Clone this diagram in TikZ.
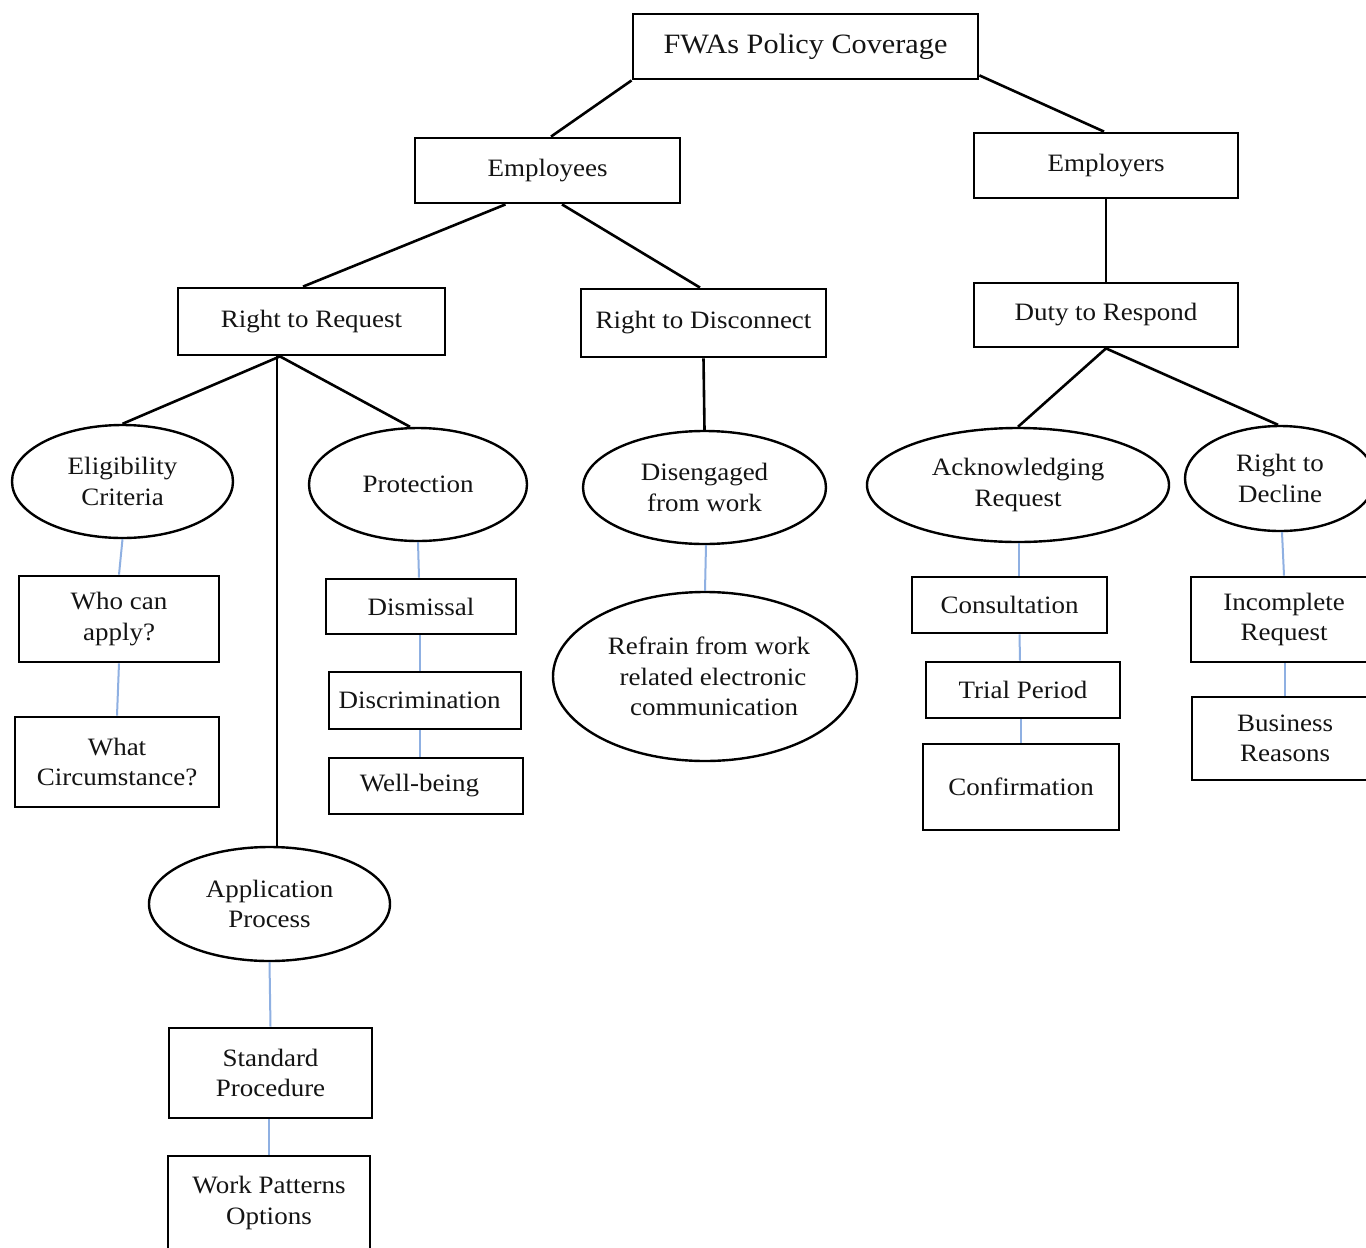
\documentclass[tikz,border=0pt]{standalone}
\usepackage{fontspec}
\setmainfont{Liberation Serif}[FakeStretch=1.08]
\usetikzlibrary{shapes.geometric}
\definecolor{linkblue}{RGB}{143,176,226}
\definecolor{inkgray}{RGB}{20,20,20}
\begin{document}
\begin{tikzpicture}[x=1pt,y=-1pt,
  box/.style={draw=black,line width=2.8pt,rectangle,align=center,inner sep=0pt,text=inkgray,font=\fontsize{25}{30.5}\selectfont},
  oval/.style={draw=black,line width=2.4pt,ellipse,align=center,inner sep=0pt,text=inkgray,font=\fontsize{25}{30.5}\selectfont},
  tree/.style={draw=black,line width=2.6pt},
  sub/.style={draw=linkblue,line width=2pt}]
\clip (0,0) rectangle (1366,1248);
\fill[white] (0,0) rectangle (1366,1248);

% rectangles
\node[box,minimum width=345pt,minimum height=65pt,font=\fontsize{28}{32}\selectfont] (top) at (805.5,46.5) {FWAs Policy Coverage};
\node[box,minimum width=265pt,minimum height=65pt] (emp) at (547.5,170.5) {Employees};
\node[box,minimum width=264pt,minimum height=65pt] (empr) at (1106,165.5) {Employers};
\node[box,minimum width=267pt,minimum height=67pt] (rtr) at (311.5,321.5) {Right to Request};
\node[box,minimum width=245pt,minimum height=68pt] (rtd) at (703.5,323) {Right to Disconnect};
\node[box,minimum width=264pt,minimum height=64pt] (duty) at (1106,315) {Duty to Respond};

% ellipses
\node[oval,minimum width=221pt,minimum height=113pt] (elig) at (122.5,481.5) {Eligibility\\Criteria};
\node[oval,minimum width=218pt,minimum height=113pt] (prot) at (418,484.5) {Protection};
\node[oval,minimum width=243pt,minimum height=113pt] (dis) at (704.5,487.5) {Disengaged\\from work};
\node[oval,minimum width=302pt,minimum height=114pt] (ack) at (1018,485) {Acknowledging\\Request};
\node[oval,minimum width=190pt,minimum height=105pt] (decl) at (1280,478.5) {Right to\\Decline};
\node[oval,minimum width=304pt,minimum height=169pt] (refr) at (705,676.5) {\hspace*{8pt}Refrain from work\\\hspace*{16pt}related electronic\\\hspace*{18pt}communication};
\node[oval,minimum width=241pt,minimum height=114pt] (app) at (269.5,904) {Application\\Process};

% lower boxes
\node[box,minimum width=200pt,minimum height=86pt] (who) at (119,619) {Who can\\apply?};
\node[box,minimum width=204pt,minimum height=90pt] (what) at (117,762) {What\\Circumstance?};
\node[box,minimum width=190pt,minimum height=55pt] (dism) at (421,606.5) {Dismissal};
\node[box,minimum width=192pt,minimum height=57pt] (discr) at (425,700.5) {Discrimination\hspace*{11pt}};
\node[box,minimum width=194pt,minimum height=56pt] (well) at (426,786) {Well-being\hspace*{13pt}};
\node[box,minimum width=195pt,minimum height=56pt] (cons) at (1009.5,605) {Consultation};
\node[box,minimum width=194pt,minimum height=56pt] (trial) at (1023,690) {Trial Period};
\node[box,minimum width=196pt,minimum height=86pt] (conf) at (1021,787) {Confirmation};
\node[box,minimum width=186pt,minimum height=85pt] (inc) at (1284,619.5) {Incomplete\\Request};
\node[box,minimum width=186pt,minimum height=83pt] (bus) at (1285,738.5) {Business\\Reasons};
\node[box,minimum width=203pt,minimum height=90pt] (std) at (270.5,1073) {Standard\\Procedure};
\node[box,minimum width=202pt,minimum height=94pt] (wpo) at (269,1203) {Work Patterns\\Options};

% tree connectors
\draw[tree] (top.south west) -- ([xshift=3.5pt]emp.north);
\draw[tree] ([yshift=5pt]top.south east) -- ([xshift=-2pt]empr.north);
\draw[tree] ([xshift=-42pt]emp.south) -- ([xshift=-8.5pt]rtr.north);
\draw[tree] ([xshift=14.5pt]emp.south) -- ([xshift=-3.5pt]rtd.north);
\draw[tree] (empr.south) -- (duty.north);
\draw[tree] ([xshift=-31.5pt]rtr.south) -- (elig.north);
\draw[tree] ([xshift=-31.5pt]rtr.south) -- ([xshift=-8pt]prot.north);
\draw[tree] ([xshift=-34.5pt]rtr.south) -- ([xshift=7.5pt]app.north);
\draw[tree] (rtd.south) -- (dis.north);
\draw[tree] (duty.south) -- (ack.north);
\draw[tree] (duty.south) -- ([xshift=-2pt]decl.north);

% blue sub connectors
\draw[sub] (elig.south) -- (who.north);
\draw[sub] (who.south) -- (what.north);
\draw[sub] (prot.south) -- ([xshift=-2pt]dism.north);
\draw[sub] ([xshift=-1pt]dism.south) -- ([xshift=-5pt]discr.north);
\draw[sub] ([xshift=-5pt]discr.south) -- ([xshift=-6pt]well.north);
\draw[sub] ([xshift=1.5pt]dis.south) -- (refr.north);
\draw[sub] ([xshift=1pt]ack.south) -- ([xshift=9.5pt]cons.north);
\draw[sub] ([xshift=10pt]cons.south) -- ([xshift=-3pt]trial.north);
\draw[sub] ([xshift=-2pt]trial.south) -- (conf.north);
\draw[sub] ([xshift=2pt]decl.south) -- (inc.north);
\draw[sub] ([xshift=1pt]inc.south) -- (bus.north);
\draw[sub] (app.south) -- (std.north);
\draw[sub] ([xshift=-1.5pt]std.south) -- (wpo.north);
\end{tikzpicture}
\end{document}
